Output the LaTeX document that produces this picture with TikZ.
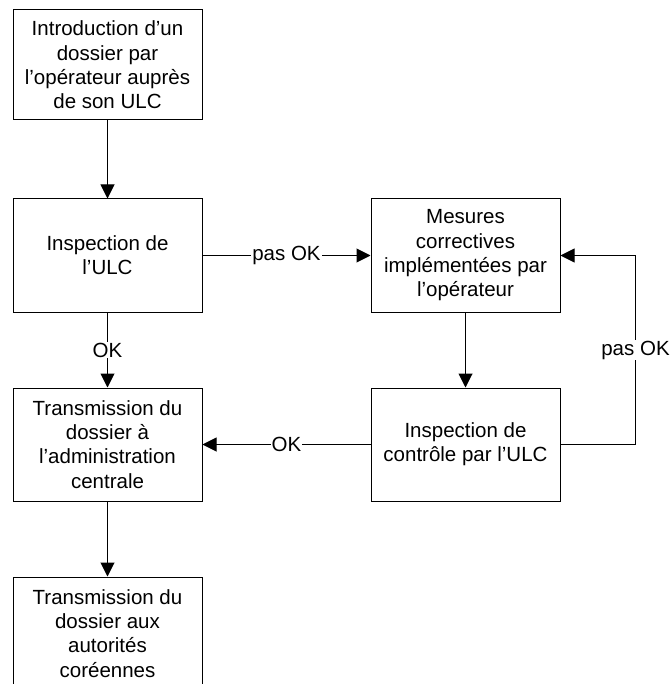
\documentclass[tikz,border=0pt]{standalone}
\usepackage{fontspec}
\setmainfont{Liberation Sans}
\usetikzlibrary{arrows.meta}
\begin{document}
\begin{tikzpicture}[x=1pt,y=-1pt,
  box/.style={draw=black, line width=1pt, minimum width=189pt, minimum height=113pt,
    align=center, inner sep=2pt, font=\fontsize{20.5}{24.3}\selectfont},
  conn/.style={draw=black, line width=1pt, -{Triangle[length=14pt,width=14pt]}},
  lbl/.style={fill=white, inner sep=1pt, font=\fontsize{20.5}{24.3}\selectfont}]
\clip (0,0) rectangle (671,684);
\node[box, minimum height=110pt] (b1) at (107.5,65) {Introduction d’un\\dossier par\\l’opérateur auprès\\de son ULC};
\node[box] (b2) at (107.5,255.5) {Inspection de\\l’ULC};
\node[box] (b3) at (107.5,444.5) {Transmission du\\dossier à\\l’administration\\centrale};
\node[box] (b4) at (107.5,633.5) {Transmission du\\dossier aux\\autorités\\coréennes};
\node[box] (b5) at (465.5,255.5) {Mesures\\correctives\\implémentées par\\l’opérateur};
\node[box] (b6) at (465.5,444.5) {Inspection de\\contrôle par l’ULC};
\draw[conn] (b1) -- (b2);
\draw[conn] (b2) -- node[lbl] {OK} (b3);
\draw[conn] (b3) -- (b4);
\draw[conn] (b2) -- node[lbl] {pas OK} (b5);
\draw[conn] (b5) -- (b6);
\draw[conn] (b6) -- node[lbl] {OK} (b3);
\draw[conn] (b6.east) -- ++(75,0) |- node[lbl, pos=0.25] {pas OK} (b5.east);
\end{tikzpicture}
\end{document}
